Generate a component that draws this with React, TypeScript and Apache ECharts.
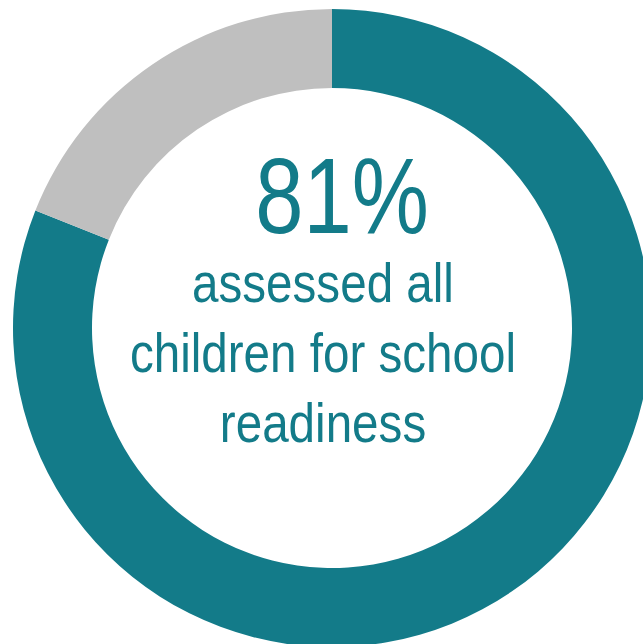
import React, { useEffect, useRef } from "react";
import * as echarts from "echarts";

const categories = ["Assessed all children", "Did not assess all"];
const values = [81, 19];
const colors = ["#137b89", "#bfbfbf"];
const headline = "81%";
const captionLines = ["assessed all", "children for school", "readiness"];

export default function App() {
  const ref = useRef<HTMLDivElement>(null);
  useEffect(() => {
    if (!ref.current) return;
    const chart = echarts.init(ref.current, undefined, { renderer: "svg" });
    const font = '"Liberation Sans", Arial, sans-serif';
    chart.setOption({
      animation: false,
      backgroundColor: "#ffffff",
      series: [
        {
          type: "pie",
          center: [332, 328],
          radius: [240, 319],
          startAngle: 90,
          clockwise: true,
          silent: true,
          label: { show: false },
          labelLine: { show: false },
          itemStyle: { borderWidth: 0 },
          data: categories.map((c, i) => ({
            name: c,
            value: values[i],
            itemStyle: { color: colors[i] },
          })),
        },
      ],
      graphic: [
        {
          type: "text",
          x: 342,
          y: 196,
          scaleX: 0.81,
          style: {
            text: headline,
            fill: colors[0],
            font: `107px ${font}`,
            lineHeight: 80,
            textAlign: "center",
            textVerticalAlign: "middle",
          },
        },
        ...captionLines.map((t, i) => ({
          type: "text",
          x: 323,
          y: 283 + i * 70,
          scaleX: 0.85,
          style: {
            text: t,
            fill: colors[0],
            font: `56px ${font}`,
            lineHeight: 50,
            textAlign: "center",
            textVerticalAlign: "middle",
          },
        })),
      ],
    });
    return () => chart.dispose();
  }, []);
  return (
    <div
      ref={ref}
      style={{ position: "fixed", left: 0, top: 0, width: 643, height: 644 }}
    />
  );
}
